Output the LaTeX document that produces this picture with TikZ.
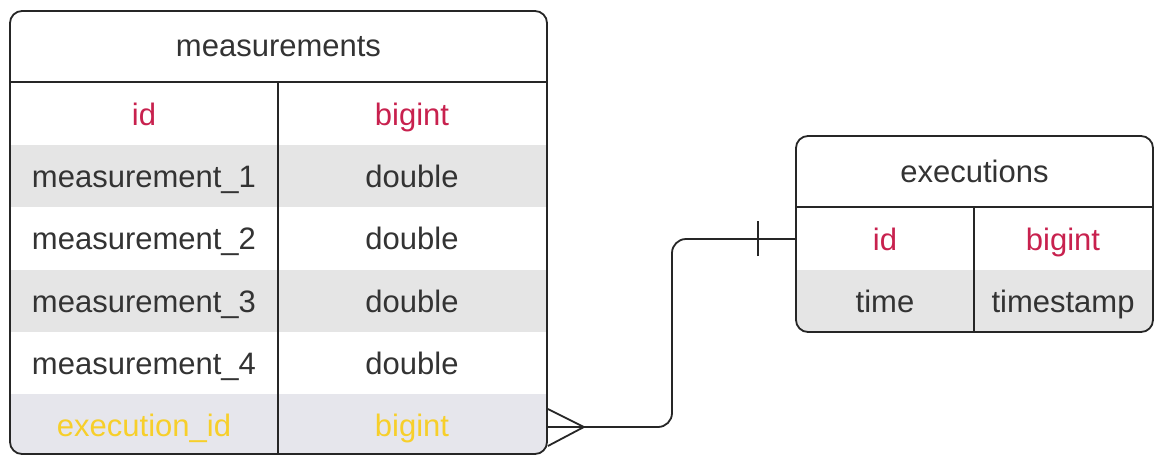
\documentclass[tikz,border=0pt]{standalone}
\usepackage{fontspec}
\setmainfont{Liberation Sans}
\definecolor{txt}{HTML}{333333}
\definecolor{keyred}{HTML}{C8214E}
\definecolor{fkgold}{HTML}{F7CF2A}
\definecolor{rowgray}{HTML}{E5E5E5}
\definecolor{fkrow}{HTML}{E6E6EC}
\tikzset{
  cell/.style={inner sep=0pt, text=txt, font=\fontsize{31}{36}\selectfont, anchor=base},
  pk/.style={cell, text=keyred},
  fk/.style={cell, text=fkgold},
  tablebox/.style={draw=black!85, line width=1.8pt, rounded corners=12pt, inner sep=0pt},
  rule/.style={draw=black!85, line width=1.8pt},
  conn/.style={draw=black!85, line width=1.8pt},
}
\begin{document}
\begin{tikzpicture}[x=1pt,y=-1pt]
\useasboundingbox (0,0) rectangle (1157,456);
% backgrounds
\fill[white] (0,0) rectangle (1157,456);
\begin{scope}
  \clip[rounded corners=12pt] (10,11) rectangle (547,454);
  \fill[rowgray] (10,145) rectangle (547,207);
  \fill[rowgray] (10,270) rectangle (547,332);
  \fill[fkrow] (10,394) rectangle (547,454);
\end{scope}
\begin{scope}
  \clip[rounded corners=12pt] (796,136) rectangle (1153,332);
  \fill[rowgray] (796,270) rectangle (1153,332);
\end{scope}
% table frames
\node[tablebox, minimum width=537pt, minimum height=443pt] (meas) at (278.5,232.5) {};
\node[tablebox, minimum width=357pt, minimum height=196pt] (exec) at (974.5,234) {};
% internal rules
\draw[rule] (10,82) -- (547,82);
\draw[rule] (278,82) -- (278,454);
\draw[rule] (796,207) -- (1153,207);
\draw[rule] (974,207) -- (974,332);
% measurements texts (baselines)
\node[cell] (mhead) at (278.5,56) {measurements};
\node[pk] (mid) at (144,125) {id};
\node[pk] (midt) at (412,125) {bigint};
\node[cell] (m1) at (144,187) {measurement\_1};
\node[cell] (m1t) at (412,187) {double};
\node[cell] (m2) at (144,249.5) {measurement\_2};
\node[cell] (m2t) at (412,249.5) {double};
\node[cell] (m3) at (144,312) {measurement\_3};
\node[cell] (m3t) at (412,312) {double};
\node[cell] (m4) at (144,374) {measurement\_4};
\node[cell] (m4t) at (412,374) {double};
\node[fk] (mex) at (144,436) {execution\_id};
\node[fk] (mext) at (412,436) {bigint};
% executions texts
\node[cell] (ehead) at (974.5,182) {executions};
\node[pk] (eid) at (885,250) {id};
\node[pk] (eidt) at (1063,250) {bigint};
\node[cell] (etime) at (885,312) {time};
\node[cell] (etimet) at (1063,312) {timestamp};
% connector
\coordinate (cA) at (meas.east |- 0,427);
\coordinate (cB) at (exec.west |- 0,239);
\draw[conn, rounded corners=14pt] (cA) -- (672,427) -- (672,239) -- (cB);
\draw[conn] ([yshift=-19pt]cA) -- ([xshift=36pt]cA) -- ([yshift=18pt]cA);
\draw[conn] ([xshift=-37pt,yshift=-17pt]cB) -- ([xshift=-37pt,yshift=18pt]cB);
\end{tikzpicture}
\end{document}
